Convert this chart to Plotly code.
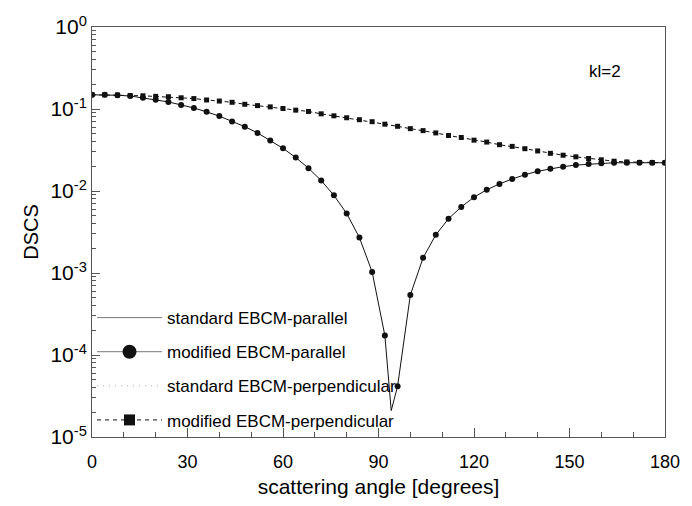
import plotly.graph_objects as go

# ---- data ----
angles = [0, 4, 8, 12, 16, 20, 24, 28, 32, 36, 40, 44, 48, 52, 56, 60, 64, 68, 72, 76,
          80, 84, 88, 92, 96, 100, 104, 108, 112, 116, 120, 124, 128, 132, 136, 140,
          144, 148, 152, 156, 160, 164, 168, 172, 176, 180]

mod_parallel = [0.149, 0.149, 0.147, 0.144, 0.137, 0.130, 0.122, 0.112, 0.103, 0.0923,
                0.0819, 0.0706, 0.0609, 0.0511, 0.0413, 0.0331, 0.0256, 0.0190, 0.0134,
                0.00885, 0.00532, 0.00271, 0.00103, 0.000173, 0.0000417, 0.000539,
                0.00153, 0.00292, 0.00459, 0.0064, 0.0084, 0.01035, 0.0122, 0.0140,
                0.0158, 0.0174, 0.0187, 0.0198, 0.0207, 0.0213, 0.0218, 0.0221, 0.0221,
                0.0221, 0.0221, 0.0221]

mod_perp = [0.149, 0.149, 0.148, 0.146, 0.145, 0.1426, 0.141, 0.137, 0.134, 0.1288,
            0.125, 0.1207, 0.1142, 0.110, 0.1061, 0.1014, 0.0968, 0.0933, 0.0873, 0.0826,
            0.0782, 0.0740, 0.0700, 0.0653, 0.0615, 0.0576, 0.0545, 0.0511, 0.0475,
            0.0449, 0.0417, 0.0395, 0.0367, 0.0350, 0.0328, 0.0308, 0.0288, 0.0273,
            0.0261, 0.0249, 0.0240, 0.0231, 0.0226, 0.0223, 0.0222, 0.0221]

std_angles = [0, 4, 8, 12, 16, 20, 24, 28, 32, 36, 40, 44, 48, 52, 56, 60, 64, 68, 72, 76,
              80, 84, 88, 92, 94, 96, 100, 104, 108, 112, 116, 120, 124, 128, 132, 136,
              140, 144, 148, 152, 156, 160, 164, 168, 172, 176, 180]
std_parallel = [0.149, 0.149, 0.147, 0.144, 0.137, 0.130, 0.122, 0.112, 0.103, 0.0923,
                0.0819, 0.0706, 0.0609, 0.0511, 0.0413, 0.0331, 0.0256, 0.0190, 0.0134,
                0.00885, 0.00532, 0.00271, 0.00103, 0.000173, 0.0000210, 0.0000417,
                0.000539, 0.00153, 0.00292, 0.00459, 0.0064, 0.0084, 0.01035, 0.0122,
                0.0140, 0.0158, 0.0174, 0.0187, 0.0198, 0.0207, 0.0213, 0.0218, 0.0221,
                0.0221, 0.0221, 0.0221, 0.0221]
std_perp = mod_perp

series_names = ["standard EBCM-parallel", "modified EBCM-parallel",
                "standard EBCM-perpendicular", "modified EBCM-perpendicular"]

x_ticks = [0, 30, 60, 90, 120, 150, 180]
y_ticks = [1e-5, 1e-4, 1e-3, 1e-2, 1e-1, 1]
y_ticktext = ["10<sup>-5</sup>", "10<sup>-4</sup>", "10<sup>-3</sup>",
              "10<sup>-2</sup>", "10<sup>-1</sup>", "10<sup>0</sup>"]

FONT = "Arial, Liberation Sans, Helvetica, sans-serif"
LINE = "#111111"

fig = go.Figure()

# plotted traces (no legend)
fig.add_trace(go.Scatter(x=std_angles, y=std_parallel, mode="lines",
                         line=dict(color=LINE, width=1), showlegend=False))
fig.add_trace(go.Scatter(x=angles, y=std_perp, mode="lines",
                         line=dict(color="#bbbbbb", width=1, dash="1px,6px"), showlegend=False))
fig.add_trace(go.Scatter(x=angles, y=mod_perp, mode="lines+markers",
                         line=dict(color=LINE, width=1, dash="4px,3px"),
                         marker=dict(symbol="square", size=5, color=LINE), showlegend=False))
fig.add_trace(go.Scatter(x=angles, y=mod_parallel, mode="markers",
                         marker=dict(symbol="circle", size=6, color=LINE), showlegend=False))

# legend entries
fig.add_trace(go.Scatter(x=[None], y=[None], mode="lines", name=series_names[0],
                         legendgroup="a", line=dict(color="#777777", width=1)))
fig.add_trace(go.Scatter(x=[None], y=[None], mode="lines+markers", name=series_names[1],
                         legendgroup="b", line=dict(color="#777777", width=1),
                         marker=dict(symbol="circle", size=14, color=LINE)))
fig.add_trace(go.Scatter(x=[None], y=[None], mode="lines", name=series_names[2],
                         legendgroup="c", line=dict(color="#aaaaaa", width=1, dash="1px,5px")))
fig.add_trace(go.Scatter(x=[None], y=[None], mode="lines+markers", name=series_names[3],
                         legendgroup="d", line=dict(color=LINE, width=1, dash="4px,4px"),
                         marker=dict(symbol="square", size=11, color=LINE)))

minor_y = [m * 10 ** e for e in range(-5, 0) for m in range(2, 10)]

fig.update_layout(
    width=692, height=506,
    margin=dict(l=92, r=17, t=27, b=64),
    paper_bgcolor="white", plot_bgcolor="white",
    font=dict(family=FONT, color="black"),
    legend=dict(x=0.0, y=0.334, xanchor="left", yanchor="top",
                bgcolor="rgba(0,0,0,0)", font=dict(size=17, family=FONT),
                tracegroupgap=9, itemwidth=65, itemsizing="trace"),
    annotations=[dict(text="kl=2", x=0.896, y=0.891, xref="paper", yref="paper",
                      xanchor="center", yanchor="middle",
                      showarrow=False, font=dict(size=17, family=FONT))],
)

fig.update_xaxes(
    range=[0, 180], tickvals=x_ticks, ticks="inside", ticklen=9, tickwidth=1,
    tickcolor="#555555", showline=True, linecolor="#555555", linewidth=1, mirror=True,
    showgrid=False, zeroline=False, tickfont=dict(size=18, family=FONT),
    ticklabelstandoff=8,
    minor=dict(dtick=10, tick0=0, ticks="inside", ticklen=5, tickcolor="#555555",
               showgrid=False),
    title=dict(text="scattering angle [degrees]", font=dict(size=21, family=FONT),
               standoff=8),
)
fig.update_yaxes(
    type="log", range=[-5, 0], tickvals=y_ticks, ticktext=y_ticktext,
    ticks="inside", ticklen=8, tickwidth=1, tickcolor="#555555",
    showline=True, linecolor="#555555", linewidth=1, mirror=True,
    showgrid=False, zeroline=False, tickfont=dict(size=21, family=FONT),
    minor=dict(tickvals=minor_y, ticks="inside", ticklen=4, tickcolor="#555555",
               showgrid=False),
    title=dict(text="DSCS", font=dict(size=20, family=FONT), standoff=6),
)

fig.write_html("out.html")
